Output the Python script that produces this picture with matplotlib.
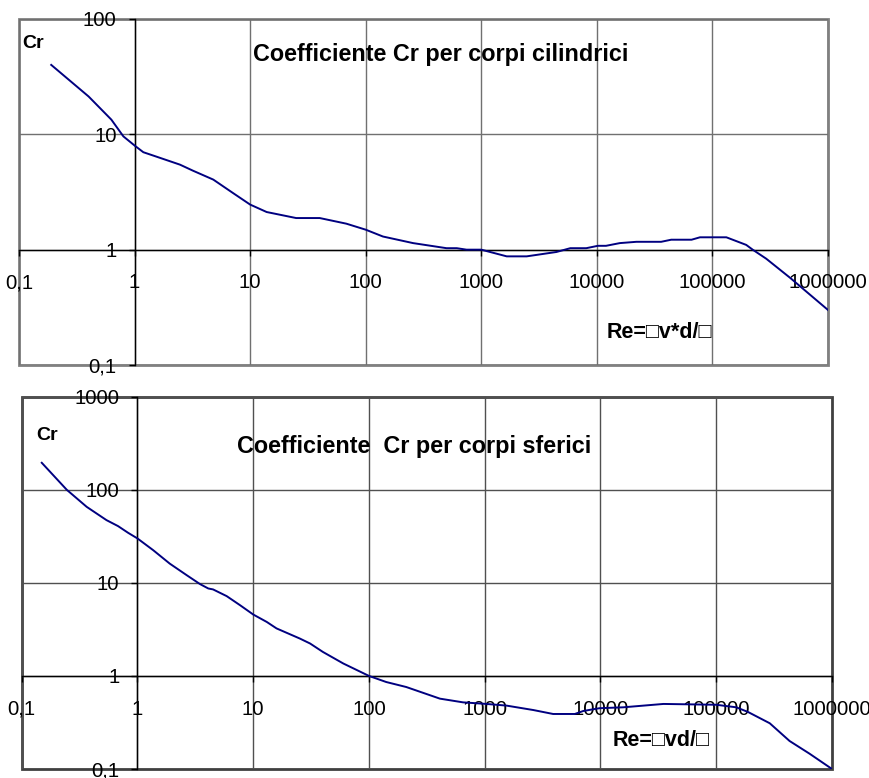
import matplotlib
matplotlib.use("Agg")
import matplotlib.pyplot as plt
from matplotlib.ticker import FixedLocator, FuncFormatter, NullLocator

plt.rcParams["font.family"] = ["Liberation Sans", "DejaVu Sans"]

# Drag coefficient of cylinders versus Reynolds number
re_cyl = [0.19, 0.40, 0.63, 0.80, 1.0, 1.19, 1.55, 2.47, 3.2, 4.8, 7.1, 10, 13.9,
          25, 40, 68, 100, 141, 257, 500, 614, 745, 1000, 1660, 2470, 4470, 5890,
          8100, 10200, 12000, 15800, 22000, 36000, 44000, 66000, 78000, 132000,
          196000, 223000, 292000, 470000, 1000000]
cr_cyl = [40, 21.3, 13.4, 9.6, 8.0, 7.0, 6.4, 5.46, 4.84, 4.05, 3.1, 2.46, 2.12,
          1.88, 1.88, 1.68, 1.49, 1.30, 1.14, 1.03, 1.03, 1.0, 1.0, 0.875, 0.875,
          0.955, 1.03, 1.03, 1.08, 1.08, 1.14, 1.17, 1.17, 1.22, 1.22, 1.28, 1.28,
          1.10, 1.0, 0.835, 0.57, 0.30]

# Drag coefficient of spheres versus Reynolds number
re_sph = [0.149, 0.245, 0.364, 0.54, 0.68, 0.83, 1.0, 1.37, 1.9, 2.66, 3.47, 4.09,
          4.5, 5.9, 7.7, 10, 13.1, 15.9, 25.3, 31, 40, 60, 100, 141, 210, 410, 650,
          1035, 1540, 2630, 3900, 6000, 7100, 9800, 15700, 35000, 100000, 149000,
          188000, 290000, 430000, 640000, 1000000]
cr_sph = [195, 100, 65.6, 47.2, 40.7, 34.5, 30, 22.4, 16.1, 12.1, 9.7, 8.7, 8.5,
          7.2, 5.75, 4.57, 3.8, 3.24, 2.52, 2.23, 1.81, 1.36, 1.0, 0.86, 0.76, 0.57,
          0.52, 0.50, 0.48, 0.43, 0.39, 0.39, 0.42, 0.45, 0.46, 0.50, 0.49, 0.46,
          0.41, 0.31, 0.20, 0.146, 0.10]

x_ticks = [0.1, 1, 10, 100, 1000, 10000, 100000, 1000000]
y_ticks_cyl = [0.1, 1, 10, 100]
y_ticks_sph = [0.1, 1, 10, 100, 1000]

title_cyl = "Coefficiente Cr per corpi cilindrici"
title_sph = "Coefficiente  Cr per corpi sferici"
xlabel_cyl = "Re=\u25a1v*d/\u25a1"
xlabel_sph = "Re=\u25a1vd/\u25a1"
ylabel = "Cr"

W, H = 870, 778
fig = plt.figure(figsize=(W / 100, H / 100), dpi=100)


def fmt(v, pos=None):
    if v < 1:
        return f"{v:g}".replace(".", ",")
    return f"{int(round(v))}"


def make_axes(rect, yticks, frame_color, grid_color):
    ax = fig.add_axes(rect)
    ax.set_xscale("log")
    ax.set_yscale("log")
    ax.set_xlim(x_ticks[0], x_ticks[-1])
    ax.set_ylim(yticks[0], yticks[-1])
    ax.xaxis.set_major_locator(FixedLocator(x_ticks))
    ax.yaxis.set_major_locator(FixedLocator(yticks))
    ax.xaxis.set_minor_locator(NullLocator())
    ax.yaxis.set_minor_locator(NullLocator())
    ax.xaxis.set_major_formatter(FuncFormatter(fmt))
    ax.yaxis.set_major_formatter(FuncFormatter(fmt))
    # axes cross at (1, 1)
    ax.spines["left"].set_position(("data", 1))
    ax.spines["bottom"].set_position(("data", 1))
    for s in ("left", "bottom"):
        ax.spines[s].set_color("black")
        ax.spines[s].set_linewidth(1.0)
        ax.spines[s].set_zorder(2.6)
    for s in ("top", "right"):
        ax.spines[s].set_visible(False)
    ax.patch.set_facecolor("white")
    ax.patch.set_edgecolor(frame_color)
    ax.patch.set_linewidth(2.0)
    ax.grid(True, which="major", color=grid_color, linewidth=1.0)
    ax.set_axisbelow(True)
    ax.tick_params(axis="x", direction="out", length=4, width=1, pad=13,
                   labelsize=14.6, colors="black")
    ax.tick_params(axis="y", direction="out", length=4, width=1, pad=9,
                   labelsize=14.6, colors="black")
    return ax


def px_rect(left, top, right, bottom):
    return [left / W, 1 - bottom / H, (right - left) / W, (bottom - top) / H]


ax1 = make_axes(px_rect(19, 19, 828, 365), y_ticks_cyl, "#808080", "#707070")
ax1.plot(re_cyl, cr_cyl, color="#000080", linewidth=1.4, zorder=3)
fig.text(253 / W, 1 - 55 / H, title_cyl, fontsize=16.8, fontweight="bold",
         ha="left", va="center")
fig.text(22 / W, 1 - 43 / H, ylabel, fontsize=14, fontweight="bold",
         ha="left", va="center")
fig.text(607 / W, 1 - 333 / H, xlabel_cyl, fontsize=15.5, fontweight="bold",
         ha="left", va="center")

ax2 = make_axes(px_rect(21.7, 396.7, 832, 769), y_ticks_sph, "#404040", "#505050")
ax2.plot(re_sph, cr_sph, color="#000080", linewidth=1.4, zorder=3)
fig.text(237 / W, 1 - 446 / H, title_sph, fontsize=16.8, fontweight="bold",
         ha="left", va="center")
fig.text(36 / W, 1 - 435 / H, ylabel, fontsize=14, fontweight="bold",
         ha="left", va="center")
fig.text(613 / W, 1 - 740 / H, xlabel_sph, fontsize=15.5, fontweight="bold",
         ha="left", va="center")

fig.savefig("out.png", dpi=100, facecolor="white")
